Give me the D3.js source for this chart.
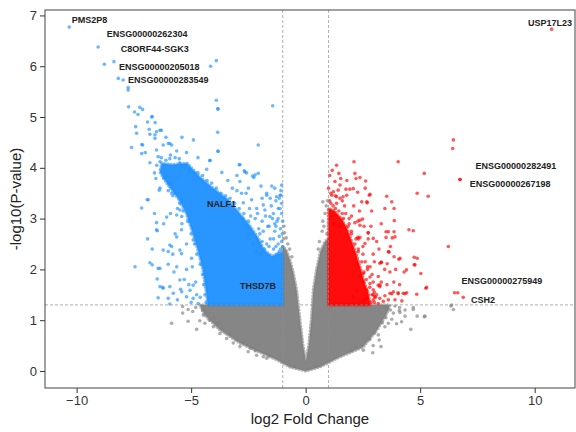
<!DOCTYPE html>
<html>
<head>
<meta charset="utf-8">
<script src="https://cdn.jsdelivr.net/npm/d3@7"></script>
<style>
body { margin: 0; background: #fff; }
text { font-family: "Liberation Sans", Arial, sans-serif; }
</style>
</head>
<body>
<svg id="plot" width="576" height="432"></svg>
<script>
// tick values
var xTicks = [-10, -5, 0, 5, 10];
var yTicks = [0, 1, 2, 3, 4, 5, 6, 7];

// cutoffs: |log2FC| = 1, p = 0.05
var fcCut = 1;
var pCut = 1.301;

// outline of the dense, overlapping cores (log2FC, -log10 p)
var grayCore = [[-4.62,1.3],[-1,1.3],[-1,2.45],[-0.85,2.38],[-0.7,2.2],[-0.55,1.95],[-0.4,1.6],[-0.25,1.0],[-0.12,0.51],[0.01,0.18],
  [0.14,0.51],[0.25,1.0],[0.34,1.6],[0.48,2.0],[0.65,2.35],[0.85,2.55],[1,2.6],[1,1.3],[3.68,1.3],[3.55,1.14],[3.12,0.81],
  [2.5,0.47],[1.5,0.28],[0.62,0.08],[0.01,0.0],[-0.69,0.08],[-1.25,0.22],[-2.0,0.37],[-2.87,0.55],[-3.74,0.81],[-4.4,1.1]];
var blueCore = [[-1,1.3],[-4.27,1.3],[-4.35,1.59],[-4.48,1.99],[-4.7,2.38],[-4.97,2.78],[-5.23,3.13],[-5.58,3.41],[-6.01,3.66],
  [-6.36,3.92],[-6.28,4.09],[-5.84,4.06],[-5.18,4.09],[-4.62,3.82],[-4.05,3.6],[-3.39,3.37],[-2.87,3.09],[-2.43,2.85],
  [-2.08,2.62],[-1.82,2.38],[-1.47,2.26],[-1,2.34]];
var redCore = [[1,1.3],[2.8,1.3],[2.75,1.5],[2.55,1.75],[2.4,2.0],[2.2,2.3],[2.0,2.55],[1.8,2.8],[1.55,3.0],[1.25,3.15],[1,3.2]];

// single genes
var grayPts = [[-5.85,0.94],[-5.37,1.14],[-5.37,1.27],[-5.13,1.21],[-4.93,1.17],[-5.13,0.98],[-4.76,0.82],[-4.62,0.99],[-4.47,1.1],
  [-4.25,1.14],[-4.4,0.94],[-4.03,0.87],[-3.74,0.74],[-3.45,0.64],[-3.16,0.55],[-2.87,0.48],[-2.51,0.38],[-2.14,0.31],[-1.85,0.28],
  [-1.7,0.25],[-4.03,1.04],[-3.74,0.94],[-4.8,1.25],[-4.5,1.2],[-4.2,1.0],[-3.9,0.95],[-3.6,0.85],[-3.3,0.72],[-3.0,0.62],[-2.7,0.55],
  [-2.4,0.45],[-2.2,0.4],[-1.6,0.3],[-1.0,0.18],[-0.5,0.1],[0.4,0.1],[1.0,0.2],[2.0,0.4],[2.8,0.62],[3.35,0.95],[3.7,1.2],[3.9,1.28],
  [4.1,1.25],[3.5,1.05],[3.0,0.75],[2.2,0.48],[4.09,1.19],[4.34,1.08],[4.7,1.21],[4.87,1.08],[5.21,1.08],[4.59,0.82],[3.97,0.93],
  [4.19,0.97],[3.76,1.02],[3.83,1.14],[3.29,0.48],[2.93,0.36],[2.52,0.41],[3.17,0.71],[3.46,0.87],[3.61,0.94],[3.55,1.23],[6.34,1.28],
  [6.45,1.21],[5.18,1.07],[4.7,1.25],[4.34,1.2],[4.12,1.15],[3.21,0.61],[2.95,0.5],[6.37,1.3],
  [-0.95,2.85],[-0.92,2.72],[-0.85,2.62],[-0.78,2.5],[-0.7,2.4],[-0.97,2.6],[-0.6,2.25],[0.75,2.95],[0.85,3.1],[0.9,3.25],
  [0.72,2.75],[0.95,3.35],[0.75,3.33],[0.8,2.85],[0.6,2.55],[0.92,2.7],[0.55,2.4]];

var bluePts = [[-10.32,6.77],[-9.06,6.38],[-8.79,6.04],[-8.37,6.09],[-8.18,5.76],[-7.97,5.73],[-7.75,5.58],[-7.75,5.53],[-4.15,6.0],
  [-3.9,6.11],[-7.73,5.2],[-7.47,5.1],[-7.24,5.19],[-7.12,5.15],[-7.32,5.05],[-6.72,5.0],[-6.7,5.01],[-6.57,4.89],[-7.42,4.81],
  [-7.38,4.68],[-6.83,4.76],[-6.8,4.66],[-6.58,4.65],[-6.51,4.71],[-6.36,4.74],[-6.3,4.74],[-3.9,5.33],[-3.83,5.16],[-3.83,5.16],
  [-1.44,5.22],[-3.84,4.7],[-6.58,4.58],[-7.12,4.45],[-7.16,4.28],[-5.93,4.48],[-5.85,4.45],[-3.82,4.32],[-2.07,4.45],[-4.18,4.15],
  [-2.87,4.06],[-2.65,3.92],[-2.87,3.73],[-2.21,3.86],[-2.07,3.89],[-1.95,3.64],[-1.48,3.64],[-1.05,3.66],[-1.12,3.46],[-1.7,3.5],
  [-6.54,3.79],[-6.39,3.56],[-6.92,3.37],[-7.16,3.21],[-6.51,2.92],[-6.51,2.78],[-6.07,3.03],[-5.93,2.48],[-6.22,2.38],[-6.8,2.13],
  [-7.45,2.05],[-6.44,2.02],[-5.49,3.17],[-5.42,2.78],[-5.63,2.64],[-4.91,2.58],[-7.15,4.46],[-6.51,4.35],[-6.22,4.45],[-6.0,4.48],
  [-5.63,4.33],[-6.44,4.22],[-6.36,4.12],[-5.93,4.18],[-5.52,4.18],[-6.36,3.6],[-6.87,3.37],[-6.07,3.83],[-5.85,3.5],[-5.35,3.37],
  [-3.83,4.33],[-4.18,4.14],[-4.32,3.97],[-3.66,3.91],[-2.9,4.06],[-2.68,3.94],[-2.58,3.9],[-2.26,3.81],[-2.32,3.84],[-2.72,3.31],
  [-2.36,3.37],[-2.14,3.2],[-1.85,3.27],[-1.7,3.46],[-1.27,3.43],[-1.08,3.46],[-1.78,3.17],[-1.41,3.1],[-1.56,3.04],[-1.12,3.2],
  [-6.48,2.76],[-5.63,3.07],[-5.41,3.04],[-6.0,2.35],[-5.85,2.45],[-5.49,2.38],[-5.42,2.31],[-6.7,2.09],[-6.36,2.02],[-6.48,1.81],
  [-6.24,1.65],[-5.63,2.05],[-5.75,1.95],[-5.49,1.79],[-5.46,1.61],[-5.93,1.66],[-4.98,2.22],[-4.91,1.69],[-5.05,1.59],[-4.76,1.5],
  [-6.44,1.44],[-6.36,1.66],[-6.22,1.63],[-5.78,1.53],[-6.0,1.43],[-5.93,1.32],[-5.41,1.56],[-5.2,1.46],[-4.91,1.43],[-4.69,1.33],
  [-1.1,2.4],[-1.2,2.5],[-1.05,2.55],[-1.3,2.45],[-1.15,2.65],[-1.4,2.4],[-1.6,2.45],[-1.1,2.8],[-1.35,2.75],[-1.55,2.6],[-1.7,2.5],
  [-1.9,2.55],[-1.25,2.95],[-1.05,3.1],[-1.45,3.0],[-1.65,2.85],[-1.85,2.75],[-2.05,2.8],[-2.2,3.0],[-2.4,3.05],[-1.2,3.2],
  [-1.05,3.3],[-1.5,3.25],[-1.3,2.85],[-1.0,2.95],[-1.08,3.55],[-1.15,3.4],[-1.2,3.0],[-1.35,2.9],[-1.6,2.85],[-1.9,2.95],[-2.0,2.7],
  [-6.3,4.2],[-6.1,4.15],[-5.9,4.25],[-5.7,4.2],[-5.5,4.1],[-5.3,4.0],[-5.1,3.95],[-4.9,3.9],[-4.7,3.9],[-4.5,3.85],[-4.3,3.75],
  [-4.1,3.7],[-3.9,3.6],[-3.7,3.5],[-3.5,3.45],[-3.3,3.4],[-3.1,3.3],[-2.9,3.2],[-2.7,3.1],[-2.5,2.95],[-6.5,4.05],[-6.6,3.9],
  [-6.2,3.8],[-5.9,3.7],[-5.7,3.5],[-5.5,3.3],[-5.35,3.15],[-5.15,2.95],[-5.0,2.7],[-4.85,2.5],[-4.75,2.3],[-4.6,2.1],[-4.5,1.9],
  [-4.45,1.7],[-4.4,1.5],[-4.35,1.35],[-4.6,1.45],[-4.8,1.75],[-4.95,2.05],[-5.2,2.5],[-5.4,2.9],[-5.6,3.2],[-5.8,3.45],[-6.0,3.55],
  [-2.3,2.5],[-2.15,2.35],[-1.95,2.3],[-2.5,2.7],[-2.65,2.85],[-2.75,3.0],[-1.75,3.05],[-1.55,3.4],[-1.35,3.6],[-2.1,3.1],[-2.45,3.2],
  [-1.15,2.35],[-1.4,2.6],[-1.8,2.4],[-2.6,3.5],[-3.0,3.55],[-3.2,3.6],[-3.4,3.75],[-3.0,3.85],[-2.8,3.5],[-2.5,3.6],[-1.9,3.4],
  [-1.3,3.35],[-1.0,2.45],[-1.02,2.7],[-1.25,2.3],[-6.9,2.6],[-6.7,2.4],[-6.2,2.9],[-6.0,2.1],[-5.7,2.7],[-5.8,2.3],[-5.2,2.0],
  [-5.3,1.8],[-5.1,1.7],[-5.6,1.4],[-5.0,1.35],[-5.9,3.1],[-6.6,3.1],[-5.6,3.8],[-6.8,4.1],[-7.0,4.3],[-6.9,4.9],[-7.6,4.4],
  [-5.2,4.3],[-4.7,4.2],[-4.9,4.55],[-5.4,4.6],[-6.1,4.6]];

var redPts = [[10.74,6.73],[6.45,4.55],[6.42,4.38],[2.11,4.12],[4.04,4.12],[5.18,3.89],[6.74,3.77],[6.74,3.77],[1.16,3.95],[1.45,3.89],
  [1.53,3.79],[2.15,3.89],[2.2,3.79],[2.37,3.81],[2.62,3.74],[1.21,3.53],[1.42,3.56],[1.76,3.58],[1.93,3.58],[2.08,3.59],[2.27,3.52],
  [1.14,3.46],[1.79,3.46],[1.5,3.4],[2.78,3.46],[4.87,3.5],[5.35,3.44],[2.69,3.31],[3.76,3.33],[3.86,3.2],[3.46,3.2],[2.88,3.15],
  [3.87,2.96],[2.37,2.97],[2.49,2.99],[2.15,2.92],[2.73,2.72],[3.51,2.74],[3.86,2.74],[3.9,2.64],[3.51,2.63],[4.51,2.78],[4.7,2.76],
  [2.95,2.61],[2.37,2.63],[2.59,2.51],[6.23,2.45],[3.61,2.35],[3.86,2.25],[4.12,2.22],[4.74,2.24],[4.87,2.22],[4.77,2.09],[5.03,1.92],
  [4.3,1.95],[3.24,2.12],[3.31,2.14],[3.56,2.11],[3.68,1.95],[3.17,1.86],[3.24,1.69],[5.28,1.65],[6.64,1.54],[6.88,1.45],[4.85,1.51],
  [4.41,1.54],[4.26,1.53],[4.04,1.54],[3.83,1.56],[3.68,1.53],[3.46,1.48],[3.24,1.43],[3.61,1.4],[3.1,1.5],[2.95,1.4],[3.01,1.46],
  [3.39,1.37],[3.17,1.33],[1.28,3.73],[1.5,3.66],[2.81,3.48],[1.35,3.43],[1.63,3.43],[2.45,3.33],[2.67,3.33],[3.54,3.44],[2.28,2.95],
  [2.37,2.87],[3.61,2.74],[3.78,2.62],[2.73,2.72],[2.73,2.6],[2.28,2.63],[3.64,2.34],[3.3,2.14],[4.74,2.09],[4.07,2.2],[3.93,2.0],
  [4.4,1.99],[2.81,2.05],[2.52,1.92],[3.17,1.69],[3.24,1.66],[5.25,1.63],[6.5,1.54],[4.34,1.52],[4.04,1.52],[3.76,1.52],
  [2.95,1.5],[2.64,1.43],[2.52,1.39],[2.08,1.46],[2.23,1.59],[2.66,1.59],[2.81,1.72],[2.52,1.75],[2.37,1.85],[2.81,1.85],
  [2.85,1.35],[2.9,1.5],[2.8,1.65],[2.65,1.8],[2.55,1.95],[2.45,2.15],[2.3,2.35],[2.15,2.5],[2.0,2.7],[1.85,2.85],[1.65,3.0],
  [1.45,3.15],[1.2,3.25],[1.05,3.35],[3.0,1.35],[2.95,1.6],[2.7,2.05],[2.5,2.45],[2.3,2.6],[1.9,3.0],[1.1,3.5],[1.3,3.45],[1.6,3.35],
  [1.1,3.3],[1.3,3.2],[1.6,3.1],[1.9,2.9],[2.0,2.75],[2.2,2.6],[2.3,2.4],[2.5,2.3],[2.6,2.15],[2.7,2.0],[2.9,1.9],[2.95,1.75],
  [3.0,1.55],[3.05,1.45],[1.15,3.05],[1.35,3.3],[1.7,3.25],[1.2,2.9],[2.0,3.05],
  [1.25,2.9],[1.5,2.85],[1.75,3.1],[2.1,3.25],[2.35,3.15],[2.55,2.85],[2.85,2.85],[3.1,2.55],[3.3,2.9],[2.95,2.3],[3.2,2.4],
  [3.45,2.0],[3.0,2.15],[3.3,1.75],[3.55,1.7],[3.85,1.75],[4.1,1.7],[3.9,1.4],[4.2,1.38],[3.7,2.45],[2.6,3.6],[1.8,3.75],
  [1.35,4.05],[1.0,3.6],[1.05,3.85]];

// labelled genes and where their labels sit
var labelNames = ["PMS2P8", "ENSG00000262304", "C8ORF44-SGK3", "ENSG00000205018", "ENSG00000283549", "USP17L23",
  "NALF1", "THSD7B", "ENSG00000282491", "ENSG00000267198", "ENSG00000275949", "CSH2"];
var labelX = [-10.21, -8.68, -8.07, -8.15, -7.76, 11.63, -4.31, -2.87, 7.42, 7.17, 6.81, 7.22];
var labelY = [6.85, 6.57, 6.28, 5.93, 5.67, 6.79, 3.23, 1.61, 3.98, 3.63, 1.71, 1.34];

var margin = { left: 45, top: 10, right: 1, bottom: 44 };
var W = 576 - margin.left - margin.right;
var H = 432 - margin.top - margin.bottom;

var svg = d3.select("#plot");
var g = svg.append("g").attr("transform", "translate(" + margin.left + "," + margin.top + ")");

var x = d3.scaleLinear().domain([-11.38, 11.76]).range([0, W]);
var y = d3.scaleLinear().domain([-0.335, 7.107]).range([H, 0]);

g.append("clipPath").attr("id", "clip").append("rect").attr("width", W).attr("height", H);
var pl = g.append("g").attr("clip-path", "url(#clip)");

var area = d3.line().x(function (d) { return x(d[0]); }).y(function (d) { return y(d[1]); }).curve(d3.curveLinearClosed);

function layer(core, pts, col) {
    pl.append("path").datum(core).attr("d", area)
        .style("fill", col).style("fill-opacity", 0.95)
        // ragged edge: a row of dots along the outline
        .style("stroke", col).style("stroke-opacity", 0.6).style("stroke-width", 3.6)
        .style("stroke-linecap", "round").style("stroke-dasharray", "0,3.2");
    pl.selectAll(null).data(pts).enter().append("circle")
        .attr("cx", function (d) { return x(d[0]); })
        .attr("cy", function (d) { return y(d[1]); })
        .attr("r", 1.8)
        .style("fill", col).style("fill-opacity", 0.65);
}
layer(grayCore, grayPts, "#808080");
layer(blueCore, bluePts, "#1E90FF");
layer(redCore, redPts, "#FF0000");

// cutoff lines
[-fcCut, fcCut].forEach(function (v) {
    pl.append("line").attr("x1", x(v)).attr("x2", x(v)).attr("y1", 0).attr("y2", H)
        .style("stroke", "#8c8c8c").style("stroke-width", 0.7).style("stroke-dasharray", "3,2");
});
pl.append("line").attr("x1", 0).attr("x2", W).attr("y1", y(pCut)).attr("y2", y(pCut))
    .style("stroke", "#8c8c8c").style("stroke-width", 0.7).style("stroke-dasharray", "3,2");

// gene labels
pl.selectAll(null).data(labelNames).enter().append("text")
    .attr("x", function (d, i) { return x(labelX[i]); })
    .attr("y", function (d, i) { return y(labelY[i]); })
    .attr("text-anchor", function (d) { return d == "USP17L23" ? "end" : "start"; })
    .style("font-size", "9px").style("font-weight", "bold").style("fill", "#222")
    .text(function (d) { return d; });

// axes
var xa = g.append("g").attr("transform", "translate(0," + H + ")")
    .call(d3.axisBottom(x).tickValues(xTicks).tickSize(5).tickPadding(3));
var ya = g.append("g").call(d3.axisLeft(y).tickValues(yTicks).tickSize(5).tickPadding(3));
[xa, ya].forEach(function (a) {
    a.select(".domain").remove();
    a.selectAll(".tick line").style("stroke", "#333");
    a.selectAll(".tick text").style("font-size", "13px").style("fill", "#333")
        .style("font-family", "'Liberation Sans', Arial, sans-serif");
});

g.append("rect").attr("width", W).attr("height", H)
    .style("fill", "none").style("stroke", "#444").style("stroke-width", 1);

svg.append("text").attr("x", margin.left + W / 2).attr("y", 424).attr("text-anchor", "middle")
    .style("font-size", "15px").style("fill", "#222").text("log2 Fold Change");
svg.append("text").attr("transform", "translate(21," + (margin.top + H / 2) + ") rotate(-90)")
    .attr("text-anchor", "middle").style("font-size", "15px").style("fill", "#222").text("-log10(P-value)");
</script>
</body>
</html>
